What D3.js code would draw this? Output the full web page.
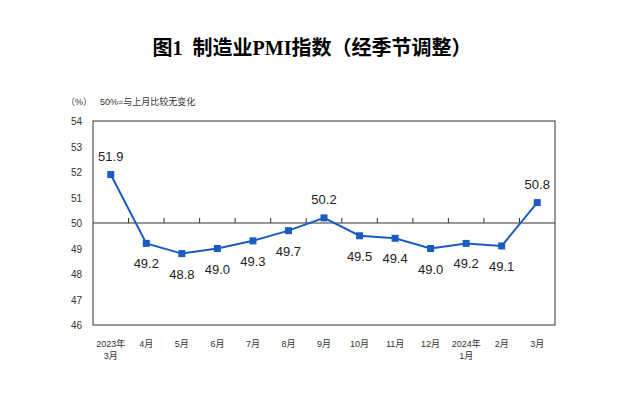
<!DOCTYPE html>
<html><head><meta charset="utf-8">
<script src="https://cdn.jsdelivr.net/npm/d3@7"></script>
<style>body{margin:0;background:#fff}</style>
</head><body>
<svg id="c" width="640" height="393"></svg>
<script>
const categories = [["2023年","3月"],["4月"],["5月"],["6月"],["7月"],["8月"],["9月"],["10月"],["11月"],["12月"],["2024年","1月"],["2月"],["3月"]];
const values = [51.9,49.2,48.8,49.0,49.3,49.7,50.2,49.5,49.4,49.0,49.2,49.1,50.8];
const labelAbove = [true,false,false,false,false,false,true,false,false,false,false,false,true];
const yTicks = [46,47,48,49,50,51,52,53,54];

const svg = d3.select("#c");
const L=93,R=555,T=121,B=325;
const x = d3.scaleBand().domain(d3.range(categories.length)).range([L,R]);
const y = d3.scaleLinear().domain([46,54]).range([B,T]);
const font = "Arial, 'Liberation Sans', 'Noto Sans CJK SC', sans-serif";

svg.append("text").attr("x",312).attr("y",55).attr("text-anchor","middle")
  .attr("font-family","'Liberation Serif','Noto Sans CJK SC', serif").attr("font-weight","bold")
  .attr("font-size",20).attr("fill","#000").attr("xml:space","preserve").text("图1  制造业PMI指数（经季节调整）");

svg.append("text").attr("x",66).attr("y",105).attr("font-family",font).attr("font-size",9).attr("fill","#333").text("（%）");
svg.append("text").attr("x",100).attr("y",105).attr("font-family",font).attr("font-size",9).attr("fill","#333").text("50%=与上月比较无变化");

svg.append("rect").attr("x",L).attr("y",T).attr("width",R-L).attr("height",B-T)
  .attr("fill","none").attr("stroke","#333").attr("stroke-width",1);

svg.append("line").attr("x1",L).attr("x2",R).attr("y1",y(50)).attr("y2",y(50)).attr("stroke","#333");
d3.range(1,categories.length).forEach(i=>{
  const xx = x(i);
  svg.append("line").attr("x1",xx).attr("x2",xx).attr("y1",y(50)).attr("y2",y(50)-5).attr("stroke","#333");
});

svg.selectAll(".yt").data(yTicks).enter().append("text")
  .attr("x",82).attr("y",d=>y(d)+4).attr("text-anchor","end")
  .attr("font-family",font).attr("font-size",10).attr("fill","#333").text(d=>d);

const cx = i=>x(i)+x.bandwidth()/2;
svg.selectAll(".xl").data(categories).enter().append("text")
  .attr("text-anchor","middle").attr("font-family",font).attr("font-size",9).attr("fill","#333")
  .each(function(d,i){
    const t=d3.select(this);
    d.forEach((s,j)=>t.append("tspan").attr("x",cx(i)).attr("y",347+j*12).text(s));
  });

const line = d3.line().x((d,i)=>cx(i)).y(d=>y(d));
svg.append("path").datum(values).attr("d",line).attr("fill","none").attr("stroke","#1a5cbe").attr("stroke-width",2);
svg.selectAll(".pt").data(values).enter().append("rect")
  .attr("x",(d,i)=>cx(i)-3.5).attr("y",d=>y(d)-3.5).attr("width",7).attr("height",7).attr("fill","#1a5cbe");

svg.selectAll(".dl").data(values).enter().append("text")
  .attr("x",(d,i)=>cx(i)).attr("y",(d,i)=>labelAbove[i]? y(d)-14 : y(d)+25)
  .attr("text-anchor","middle").attr("font-family",font).attr("font-size",13).attr("fill","#222")
  .text(d=>d.toFixed(1));
</script>
</body></html>
